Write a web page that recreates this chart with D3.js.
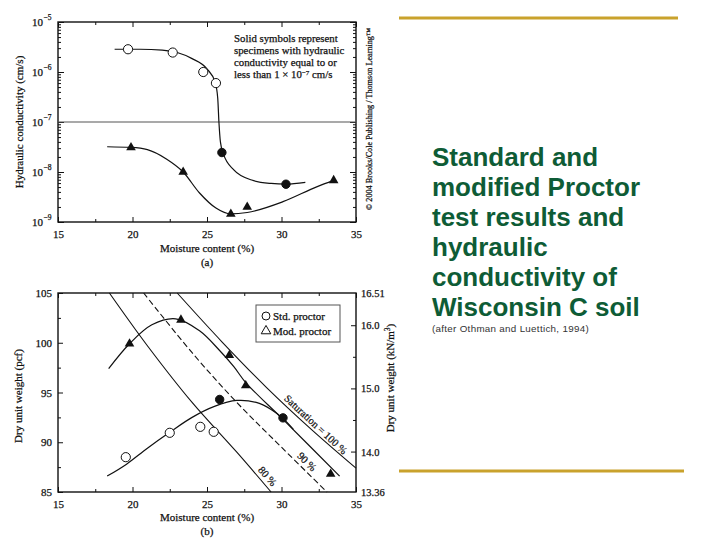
<!DOCTYPE html>
<html><head><meta charset="utf-8">
<script src="https://cdn.jsdelivr.net/npm/d3@7"></script>
<style>
body{margin:0;background:#fff}
svg{display:block}
.serif text, text.serif{font-family:"Liberation Serif","Times New Roman",serif;fill:#111;stroke:#111;stroke-width:0.25}
.axis path{display:none}
.axis line{stroke:#111;stroke-width:1}
</style>
</head><body><svg id="c" width="720" height="540"></svg>
<script>
// ---------- DATA ----------
const moistureTicks = [15, 20, 25, 30, 35];
const moistureMinor = [17.5, 22.5, 27.5, 32.5];

// (a) hydraulic conductivity
const kMajor = [1e-9, 1e-8, 1e-7, 1e-6, 1e-5];
const kExponents = ["−9", "−8", "−7", "−6", "−5"];
const kLimit = 1e-7;
const stdKMoisture = [19.7, 22.7, 24.75, 25.6, 26.0, 30.3];
const stdKValue = [2.85e-6, 2.45e-6, 1.0e-6, 6.0e-7, 2.45e-8, 5.7e-9];
const stdKSolid = [false, false, false, false, true, true];
const stdKCurveMoisture = [18.8, 20.5, 22.0, 23.0, 24.0, 25.0, 25.55, 25.72, 25.8, 25.9, 26.1, 26.8, 28.0, 29.3, 30.3, 31.6];
const stdKCurveValue = [2.85e-6, 2.85e-6, 2.75e-6, 2.45e-6, 1.85e-6, 1.15e-6, 6.2e-7, 3.0e-7, 1.0e-7, 4.0e-8, 2.3e-8, 1.1e-8, 6.9e-9, 5.9e-9, 5.7e-9, 6.2e-9];
const modKMoisture = [19.9, 23.4, 26.6, 27.7, 33.5];
const modKValue = [3.1e-8, 1.0e-8, 1.45e-9, 2.0e-9, 6.8e-9];
const modKCurveMoisture = [18.3, 19.9, 21.0, 22.3, 23.4, 24.5, 25.6, 26.6, 27.7, 30.1, 32.4, 33.5];
const modKCurveValue = [3.2e-8, 3.1e-8, 2.8e-8, 1.8e-8, 1.0e-8, 3.8e-9, 1.9e-9, 1.45e-9, 1.55e-9, 2.55e-9, 5.1e-9, 6.8e-9];
const noteLines = ["Solid symbols represent", "specimens with hydraulic", "conductivity equal to or"];

// (b) dry unit weight
const pcfTicks = [85, 90, 95, 100, 105];
const pcfMinor = [87.5, 92.5, 97.5, 102.5];
const knValues = [13.36, 14.0, 15.0, 16.0, 16.51];
const knLabels = ["13.36", "14.0", "15.0", "16.0", "16.51"];
const knMinor = [14.5, 15.5];
const stdDryMoisture = [19.55, 22.5, 24.55, 25.45, 25.85, 30.1];
const stdDryWeight = [88.5, 90.95, 91.55, 91.05, 94.3, 92.45];
const stdDrySolid = [false, false, false, false, true, true];
const stdDryCurveMoisture = [18.3, 19.6, 21.0, 22.5, 24.0, 25.5, 27.0, 28.3, 29.3, 30.1, 30.8];
const stdDryCurveWeight = [86.6, 87.8, 89.4, 91.0, 92.5, 93.6, 94.2, 94.0, 93.3, 92.4, 91.3];
const modDryMoisture = [19.8, 23.25, 26.5, 27.6, 33.3];
const modDryWeight = [99.9, 102.3, 98.75, 95.7, 86.8];
const modDryCurveMoisture = [18.4, 19.8, 21.3, 22.9, 24.5, 25.8, 26.8, 27.6, 30.1, 33.9];
const modDryCurveWeight = [97.4, 99.9, 101.8, 102.4, 101.2, 99.3, 97.6, 96.0, 92.3, 86.6];
const sat100Moisture = [23.0, 26.0, 29.0, 32.0, 35.0];
const sat100Weight = [105.0, 100.1, 95.5, 91.3, 87.4];
const sat90Moisture = [20.75, 24.0, 27.0, 30.0, 33.05];
const sat90Weight = [105.0, 99.0, 94.0, 89.5, 85.0];
const sat80Moisture = [18.45, 21.0, 24.0, 27.0, 29.3];
const sat80Weight = [105.0, 99.7, 94.0, 89.0, 85.0];

// slide text
const titleLines = ["Standard and", "modified Proctor", "test results and", "hydraulic", "conductivity of", "Wisconsin C soil"];
const sourceText = "(after Othman and Luettich, 1994)";
const copyrightText = "© 2004 Brooks/Cole Publishing / Thomson Learning™";

// ---------- DRAW ----------
const svg = d3.select("#c");
svg.append("rect").attr("width", 720).attr("height", 540).attr("fill", "#fff");
const g = svg.append("g").attr("class", "serif");
const zip = (a, b) => a.map((v, i) => [v, b[i]]);

function frameAxes(x, top, bottom, left, right) {
  g.append("g").attr("class", "axis").attr("transform", `translate(0,${bottom})`)
    .call(d3.axisBottom(x).tickValues(moistureTicks).tickSize(-5).tickPadding(8).tickFormat(d3.format("d")))
    .call(s => s.selectAll("text").attr("font-size", 11).attr("font-family", "Liberation Serif").attr("fill", "#111"));
  g.append("g").attr("class", "axis").attr("transform", `translate(0,${bottom})`)
    .call(d3.axisBottom(x).tickValues(moistureMinor).tickSize(-3).tickFormat(""));
  g.append("g").attr("class", "axis").attr("transform", `translate(0,${top})`)
    .call(d3.axisTop(x).tickValues(moistureTicks).tickSize(-5).tickFormat(""));
  g.append("g").attr("class", "axis").attr("transform", `translate(0,${top})`)
    .call(d3.axisTop(x).tickValues(moistureMinor).tickSize(-3).tickFormat(""));
  g.append("rect").attr("x", left).attr("y", top).attr("width", right - left).attr("height", bottom - top)
    .attr("fill", "none").attr("stroke", "#111").attr("stroke-width", 1.4);
}

// ===== (a) =====
const xA = d3.scaleLinear().domain([15, 35]).range([58, 356]);
const yA = d3.scaleLog().domain([1e-9, 1e-5]).range([222, 22]);
frameAxes(xA, 22, 222, 58, 356);
const kMinor = [];
kMajor.slice(0, 4).forEach(d => { for (let m = 2; m <= 9; m++) kMinor.push(d * m); });
[[d3.axisLeft, 58], [d3.axisRight, 356]].forEach(([ax, px]) => {
  g.append("g").attr("class", "axis").attr("transform", `translate(${px},0)`)
    .call(ax(yA).tickValues(kMajor).tickSize(-6).tickFormat(""));
  g.append("g").attr("class", "axis").attr("transform", `translate(${px},0)`)
    .call(ax(yA).tickValues(kMinor).tickSize(-3).tickFormat(""));
});
kMajor.forEach((d, i) => {
  const t = g.append("text").attr("x", 43).attr("y", yA(d) + 4).attr("font-size", 11).attr("text-anchor", "end");
  t.text("10");
  g.append("text").attr("x", 43.5).attr("y", yA(d) - 2).attr("font-size", 7.5).text(kExponents[i]);
});
g.append("line").attr("x1", xA(15)).attr("x2", xA(35)).attr("y1", yA(kLimit)).attr("y2", yA(kLimit))
  .attr("stroke", "#555").attr("stroke-width", 1.2);
const lineA = d3.line().x(d => xA(d[0])).y(d => yA(d[1])).curve(d3.curveMonotoneX);
g.append("path").attr("d", lineA(zip(stdKCurveMoisture, stdKCurveValue))).attr("fill", "none").attr("stroke", "#111").attr("stroke-width", 1.2);
g.append("path").attr("d", lineA(zip(modKCurveMoisture, modKCurveValue))).attr("fill", "none").attr("stroke", "#111").attr("stroke-width", 1.2);
stdKMoisture.forEach((m, i) => {
  g.append("circle").attr("cx", xA(m)).attr("cy", yA(stdKValue[i])).attr("r", stdKSolid[i] ? 4.2 : 4.6)
    .attr("fill", stdKSolid[i] ? "#111" : "#fff").attr("stroke", "#111").attr("stroke-width", 1);
});
const tri = d3.symbol(d3.symbolTriangle, 40);
modKMoisture.forEach((m, i) => {
  g.append("path").attr("d", tri()).attr("transform", `translate(${xA(m)},${yA(modKValue[i])})`).attr("fill", "#111");
});
const note = g.append("text").attr("font-size", 10.8);
noteLines.forEach((t, i) => {
  note.append("tspan").attr("x", 234).attr("y", 42 + i * 12).text(t);
});
note.append("tspan").attr("x", 234).attr("y", 78).text("less than 1 × 10");
note.append("tspan").attr("dy", -3.5).attr("font-size", 7).text("−7");
note.append("tspan").attr("dy", 3.5).text(" cm/s");
g.append("text").attr("transform", "translate(23,122) rotate(-90)").attr("text-anchor", "middle").attr("font-size", 11)
  .text("Hydraulic conductivity (cm/s)");
g.append("text").attr("x", 207).attr("y", 252).attr("text-anchor", "middle").attr("font-size", 11).text("Moisture content (%)");
g.append("text").attr("x", 207).attr("y", 266).attr("text-anchor", "middle").attr("font-size", 11).text("(a)");
g.append("text").attr("transform", "translate(372,119) rotate(-90)").attr("text-anchor", "middle").attr("font-size", 8.2)
  .text(copyrightText);

// ===== (b) =====
const xB = d3.scaleLinear().domain([15, 35]).range([58, 356]);
const yB = d3.scaleLinear().domain([85, 105]).range([492, 293]);
const yKN = d3.scaleLinear().domain([13.36, 16.51]).range([492, 293]);
frameAxes(xB, 293, 492, 58, 356);
g.append("g").attr("class", "axis").attr("transform", "translate(58,0)")
  .call(d3.axisLeft(yB).tickValues(pcfTicks).tickSize(-5).tickPadding(6).tickFormat(d3.format("d")))
  .call(s => s.selectAll("text").attr("font-size", 11).attr("font-family", "Liberation Serif").attr("fill", "#111"));
g.append("g").attr("class", "axis").attr("transform", "translate(58,0)")
  .call(d3.axisLeft(yB).tickValues(pcfMinor).tickSize(-3).tickFormat(""));
g.append("g").attr("class", "axis").attr("transform", "translate(356,0)")
  .call(d3.axisRight(yKN).tickValues(knValues.slice(1, 4)).tickSize(-5).tickFormat(""));
g.append("g").attr("class", "axis").attr("transform", "translate(356,0)")
  .call(d3.axisRight(yKN).tickValues(knMinor).tickSize(-3).tickFormat(""));
knValues.forEach((v, i) => {
  g.append("text").attr("x", 361).attr("y", yKN(v) + 4).attr("font-size", 10.5).text(knLabels[i]);
});
const smoothB = d3.line().x(d => xB(d[0])).y(d => yB(d[1])).curve(d3.curveCatmullRom.alpha(0.5));
g.append("path").attr("d", smoothB(zip(sat100Moisture, sat100Weight))).attr("fill", "none").attr("stroke", "#111").attr("stroke-width", 1.1);
g.append("path").attr("d", smoothB(zip(sat90Moisture, sat90Weight))).attr("fill", "none").attr("stroke", "#111").attr("stroke-width", 1.1).attr("stroke-dasharray", "6,3");
g.append("path").attr("d", smoothB(zip(sat80Moisture, sat80Weight))).attr("fill", "none").attr("stroke", "#111").attr("stroke-width", 1.1);
g.append("path").attr("d", smoothB(zip(modDryCurveMoisture, modDryCurveWeight))).attr("fill", "none").attr("stroke", "#111").attr("stroke-width", 1.2);
g.append("path").attr("d", smoothB(zip(stdDryCurveMoisture, stdDryCurveWeight))).attr("fill", "none").attr("stroke", "#111").attr("stroke-width", 1.2);
stdDryMoisture.forEach((m, i) => {
  g.append("circle").attr("cx", xB(m)).attr("cy", yB(stdDryWeight[i])).attr("r", stdDrySolid[i] ? 4.2 : 4.6)
    .attr("fill", stdDrySolid[i] ? "#111" : "#fff").attr("stroke", "#111").attr("stroke-width", 1);
});
modDryMoisture.forEach((m, i) => {
  g.append("path").attr("d", tri()).attr("transform", `translate(${xB(m)},${yB(modDryWeight[i])})`).attr("fill", "#111");
});
function lineLabel(ms, ws, at, txt, anchor, dy) {
  const i = d3.bisect(ms, at) - 1;
  const t = (at - ms[i]) / (ms[i + 1] - ms[i]);
  const w = ws[i] + t * (ws[i + 1] - ws[i]);
  const ang = Math.atan2(yB(ws[i + 1]) - yB(ws[i]), xB(ms[i + 1]) - xB(ms[i])) * 180 / Math.PI;
  g.append("text").attr("transform", `translate(${xB(at)},${yB(w)}) rotate(${ang})`)
    .attr("text-anchor", anchor).attr("dy", dy).attr("font-size", 10.5).text(txt);
}
lineLabel(sat100Moisture, sat100Weight, 30.0, "Saturation = 100 %", "start", -3);
lineLabel(sat90Moisture, sat90Weight, 31.35, "90 %", "middle", -4);
lineLabel(sat80Moisture, sat80Weight, 28.67, "80 %", "middle", -4);
// legend
g.append("rect").attr("x", 256).attr("y", 305).attr("width", 84).attr("height", 37).attr("fill", "#fff").attr("stroke", "#555").attr("stroke-width", 1);
g.append("circle").attr("cx", 266).attr("cy", 316).attr("r", 4).attr("fill", "none").attr("stroke", "#111");
g.append("path").attr("d", d3.symbol(d3.symbolTriangle, 40)()).attr("transform", "translate(266,331)").attr("fill", "none").attr("stroke", "#111");
g.append("text").attr("x", 273).attr("y", 320).attr("font-size", 11).text("Std. proctor");
g.append("text").attr("x", 273).attr("y", 335).attr("font-size", 11).text("Mod. proctor");
g.append("text").attr("transform", "translate(22,396) rotate(-90)").attr("text-anchor", "middle").attr("font-size", 11)
  .text("Dry unit weight (pcf)");
const rl = g.append("text").attr("transform", "translate(394,378) rotate(-90)").attr("text-anchor", "middle").attr("font-size", 11);
rl.append("tspan").text("Dry unit weight (kN/m");
rl.append("tspan").attr("dy", -4).attr("font-size", 7.5).text("3");
rl.append("tspan").attr("dy", 4).text(")");
g.append("text").attr("x", 207).attr("y", 521).attr("text-anchor", "middle").attr("font-size", 11).text("Moisture content (%)");
g.append("text").attr("x", 207).attr("y", 535).attr("text-anchor", "middle").attr("font-size", 11).text("(b)");

// ===== slide text =====
svg.append("line").attr("x1", 399).attr("x2", 678).attr("y1", 18).attr("y2", 18).attr("stroke", "#C9A22C").attr("stroke-width", 3);
svg.append("line").attr("x1", 399).attr("x2", 684).attr("y1", 471).attr("y2", 471).attr("stroke", "#C9A22C").attr("stroke-width", 3);
titleLines.forEach((t, i) => {
  svg.append("text").attr("x", 432).attr("y", 166 + i * 30).attr("font-family", "Liberation Sans, Arial, sans-serif")
    .attr("font-weight", "bold").attr("font-size", 26).attr("fill", "#0E5C36").text(t);
});
svg.append("text").attr("x", 432).attr("y", 332).attr("font-family", "Liberation Sans, Arial, sans-serif")
  .attr("font-size", 9.8).attr("fill", "#333").attr("letter-spacing", 0.3).text(sourceText);
</script>
</body></html>
